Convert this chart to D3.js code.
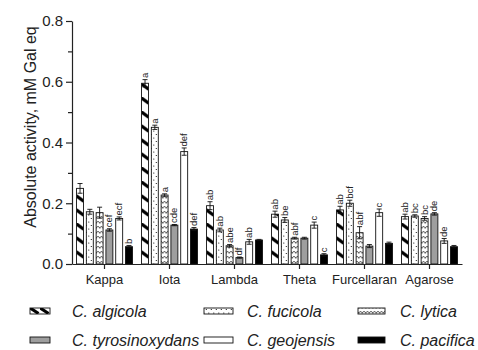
<!DOCTYPE html>
<html>
<head>
<meta charset="utf-8">
<script src="https://cdn.jsdelivr.net/npm/d3@7"></script>
<style>
  body { margin: 0; background: #fff; }
  svg { display: block; font-family: "Liberation Sans", Arial, sans-serif; }
</style>
</head>
<body>
<svg id="chart" width="478" height="350"></svg>
<script>
// Substrates on the x axis
const groups = ['Kappa', 'Iota', 'Lambda', 'Theta', 'Furcellaran', 'Agarose'];
// Strains
const series = ['C. algicola', 'C. fucicola', 'C. lytica', 'C. tyrosinoxydans', 'C. geojensis', 'C. pacifica'];

// Mean activity (mM Gal eq), one array per strain, in group order
const algicola = [0.249, 0.595, 0.192, 0.164, 0.178, 0.156];
const fucicola = [0.172, 0.450, 0.112, 0.145, 0.200, 0.158];
const lytica = [0.169, 0.227, 0.060, 0.085, 0.103, 0.150];
const tyrosinoxydans = [0.112, 0.128, 0.021, 0.085, 0.059, 0.165];
const geojensis = [0.150, 0.370, 0.073, 0.128, 0.169, 0.076];
const pacifica = [0.057, 0.115, 0.079, 0.030, 0.068, 0.057];

// Error bars
const algicolaErr = [0.016, 0.012, 0.013, 0.010, 0.012, 0.008];
const fucicolaErr = [0.008, 0.007, 0.006, 0.008, 0.010, 0.004];
const lyticaErr = [0.018, 0.004, 0.004, 0.003, 0.020, 0.006];
const tyrosinoxydansErr = [0.004, 0.002, 0.002, 0.003, 0.005, 0.004];
const geojensisErr = [0.005, 0.012, 0.008, 0.010, 0.012, 0.008];
const pacificaErr = [0.004, 0.005, 0.002, 0.004, 0.004, 0.004];

// Significance letters
const algicolaSig = ['', 'a', 'ab', 'ab', 'ab', 'ab'];
const fucicolaSig = ['', 'a', 'ab', 'be', 'bcf', 'bc'];
const lyticaSig = ['', 'a', 'abe', 'abf', 'abf', 'bc'];
const tyrosinoxydansSig = ['cef', 'cde', 'df', '', '', 'de'];
const geojensisSig = ['ecf', 'def', 'ab', 'c', 'c', 'de'];
const pacificaSig = ['b', 'def', '', 'c', '', ''];

const yTicks = [0, 0.2, 0.4, 0.6, 0.8];
const yMinorTicks = [0.1, 0.3, 0.5, 0.7];

const values = [algicola, fucicola, lytica, tyrosinoxydans, geojensis, pacifica];
const errors = [algicolaErr, fucicolaErr, lyticaErr, tyrosinoxydansErr, geojensisErr, pacificaErr];
const letters = [algicolaSig, fucicolaSig, lyticaSig, tyrosinoxydansSig, geojensisSig, pacificaSig];

const svg = d3.select('#chart');
const plot = { left: 72, right: 462, top: 21, bottom: 264 };

const x0 = d3.scaleBand().domain(groups).range([plot.left, plot.right])
    .paddingInner(0.14).paddingOuter(0.07);
const x1 = d3.scaleBand().domain(series).range([0, x0.bandwidth()]).paddingInner(0.29);
const y = d3.scaleLinear().domain([0, 0.8]).range([plot.bottom, plot.top]);

const bw = x1.bandwidth();
const defs = svg.append('defs');

// diagonal thick dashes, tiled once per group so each bar gets the same look
function hatch(id, x0pos, tileW, w) {
    const p = defs.append('pattern')
        .attr('id', id)
        .attr('patternUnits', 'userSpaceOnUse')
        .attr('x', x0pos).attr('y', plot.bottom)
        .attr('width', tileW).attr('height', 14);
    p.append('rect').attr('width', tileW).attr('height', 14).attr('fill', '#fff');
    p.append('path')
        .attr('d', `M-0.5,1.5 L${w + 0.5},7.5`)
        .attr('stroke', '#000').attr('stroke-width', 3.2);
}
hatch('hatch', x0(groups[0]) + x1(series[0]), x0.step(), bw);
hatch('hatch-legend', 30, 10, 8);

const dots = defs.append('pattern')
    .attr('id', 'dots').attr('patternUnits', 'userSpaceOnUse')
    .attr('width', 5).attr('height', 7);
dots.append('rect').attr('width', 5).attr('height', 7).attr('fill', '#fff');
dots.append('circle').attr('cx', 1.3).attr('cy', 1.5).attr('r', 0.6).attr('fill', '#000');
dots.append('circle').attr('cx', 3.8).attr('cy', 5).attr('r', 0.6).attr('fill', '#000');

const vees = defs.append('pattern')
    .attr('id', 'vees').attr('patternUnits', 'userSpaceOnUse')
    .attr('width', 3.5).attr('height', 5);
vees.append('rect').attr('width', 3.5).attr('height', 5).attr('fill', '#fff');
vees.append('path').attr('d', 'M0.3,1.2 L1.75,3.4 L3.2,1.2')
    .attr('fill', 'none').attr('stroke', '#222').attr('stroke-width', 0.8);

const fills = ['url(#hatch)', 'url(#dots)', 'url(#vees)', '#9e9e9e', '#fff', '#000'];
const legendFills = ['url(#hatch-legend)', 'url(#dots)', 'url(#vees)', '#9e9e9e', '#fff', '#000'];

// Bars
const rows = [];
series.forEach((s, si) => {
    groups.forEach((g, gi) => {
        rows.push({ g, s, si, v: values[si][gi], e: errors[si][gi], t: letters[si][gi] });
    });
});

const barG = svg.append('g');
barG.selectAll('rect')
    .data(rows)
    .enter()
    .append('rect')
    .attr('x', d => x0(d.g) + x1(d.s))
    .attr('y', d => y(d.v))
    .attr('width', bw)
    .attr('height', d => y(0) - y(d.v))
    .attr('fill', d => fills[d.si])
    .attr('stroke', '#111')
    .attr('stroke-width', 0.9);

// Error bars
const errG = svg.append('g').attr('stroke', '#111').attr('stroke-width', 0.9);
rows.forEach(d => {
    const cx = x0(d.g) + x1(d.s) + bw / 2;
    const hi = y(d.v + d.e), lo = y(d.v - d.e);
    errG.append('line').attr('x1', cx).attr('x2', cx).attr('y1', hi).attr('y2', lo);
    errG.append('line').attr('x1', cx - 2.5).attr('x2', cx + 2.5).attr('y1', hi).attr('y2', hi);
    errG.append('line').attr('x1', cx - 2.5).attr('x2', cx + 2.5).attr('y1', lo).attr('y2', lo);
});

// Letters above the error bars
svg.append('g')
    .selectAll('text')
    .data(rows.filter(d => d.t))
    .enter()
    .append('text')
    .attr('transform', d => `translate(${x0(d.g) + x1(d.s) + bw / 2 + 3},${y(d.v + d.e) - 1.5}) rotate(-90)`)
    .attr('font-size', 9.5)
    .attr('fill', '#222')
    .text(d => d.t);

// Y axis
const yAxis = svg.append('g')
    .attr('transform', `translate(${plot.left},0)`)
    .call(d3.axisLeft(y).tickValues(yTicks).tickFormat(d3.format('.1f')).tickSize(6).tickSizeOuter(0).tickPadding(3));
svg.append('g')
    .attr('transform', `translate(${plot.left},0)`)
    .call(d3.axisLeft(y).tickValues(yMinorTicks).tickFormat('').tickSize(4).tickSizeOuter(0))
    .select('.domain').remove();

// X axis
const xAxis = svg.append('g')
    .attr('transform', `translate(0,${plot.bottom})`)
    .call(d3.axisBottom(x0).tickSize(5).tickSizeOuter(0).tickPadding(6));

svg.selectAll('.domain, .tick line').attr('stroke', '#222').attr('stroke-width', 1.2);
yAxis.selectAll('text').attr('font-size', 15).attr('fill', '#222')
    .attr('font-family', '"Liberation Sans", Arial, sans-serif');
xAxis.selectAll('text').attr('font-size', 13).attr('fill', '#222')
    .attr('font-family', '"Liberation Sans", Arial, sans-serif');

// Y axis title
svg.append('text')
    .attr('transform', 'translate(30,127) rotate(-90)')
    .attr('text-anchor', 'middle')
    .attr('dominant-baseline', 'central')
    .attr('font-size', 16)
    .attr('fill', '#222')
    .text('Absolute activity, mM Gal eq');

// Legend, 3 columns x 2 rows
const legendCols = [{ sx: 30, sw: 20, tx: 72 }, { sx: 204, sw: 29, tx: 247 }, { sx: 358, sw: 27, tx: 400 }];
const legendRows = [311, 340];
series.forEach((s, i) => {
    const c = legendCols[i % 3], ry = legendRows[Math.floor(i / 3)];
    svg.append('rect')
        .attr('x', c.sx).attr('y', ry - 3)
        .attr('width', c.sw).attr('height', 6)
        .attr('fill', legendFills[i])
        .attr('stroke', '#111').attr('stroke-width', 0.9);
    svg.append('text')
        .attr('x', c.tx).attr('y', ry)
        .attr('dominant-baseline', 'central')
        .attr('font-size', 16)
        .attr('font-style', 'italic')
        .attr('fill', '#222')
        .text(s);
});
</script>
</body>
</html>
